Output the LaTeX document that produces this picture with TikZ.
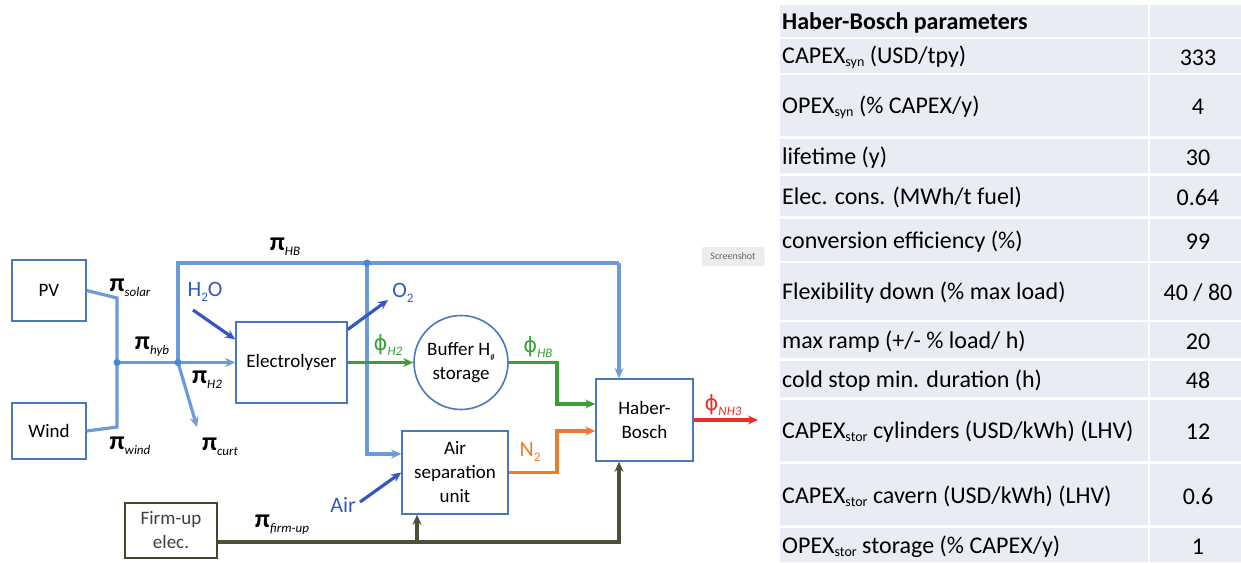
\documentclass[tikz,border=0pt]{standalone}
\usepackage{fontspec}
\setmainfont{Carlito}
\newfontfamily\symfam{DejaVu Sans}
\usepackage{xcolor}
\usetikzlibrary{arrows.meta,positioning,calc}
\definecolor{mycbus}{HTML}{6B9BD8}
\definecolor{mycbox}{HTML}{4A78B8}
\definecolor{mycdot}{HTML}{4A86D8}
\definecolor{mycin}{HTML}{3558C0}
\definecolor{mycgreen}{HTML}{3A9E3A}
\definecolor{mycorange}{HTML}{EC7A2C}
\definecolor{mycred}{HTML}{E8302A}
\definecolor{mycolive}{HTML}{4B5036}
\definecolor{mycfirm}{HTML}{4A4530}
\definecolor{myctxt}{HTML}{3F3F3F}
\definecolor{myctab}{HTML}{E9EBF5}
\newcommand{\pil}[1]{{\fontsize{26}{26}\selectfont\bfseries π}\raisebox{-5pt}{\fontsize{13}{13}\selectfont\itshape #1}}
\newcommand{\phil}[1]{{\symfam\fontsize{21}{21}\selectfont ϕ}\raisebox{-5pt}{\fontsize{13}{13}\selectfont\itshape #1}}
\newcommand{\lowsub}[1]{\raisebox{-5pt}{\fontsize{13}{13}\selectfont #1}}
\newcommand{\tsub}[1]{\raisebox{-3pt}{\fontsize{14}{14}\selectfont #1}}
\begin{document}
\begin{tikzpicture}[x=1pt,y=-1pt,
 >={Stealth[length=10pt,width=9pt]},
 b/.style={draw=mycbox,line width=1.6pt,inner sep=0pt,align=center,font=\fontsize{19}{24}\selectfont},
 bus/.style={draw=mycbus,line width=3.2pt},
 inp/.style={draw=mycin,line width=3.2pt,->},
 h2f/.style={draw=mycgreen,line width=3.2pt,->},
 n2f/.style={draw=mycorange,line width=3.2pt,->},
 nh3f/.style={draw=mycred,line width=3.2pt,->},
 fe/.style={draw=mycolive,line width=3.2pt,->},
 lab/.style={inner sep=0pt,font=\fontsize{22}{22}\selectfont},
 tt/.style={inner sep=0pt,yshift=-1.5pt,font=\fontsize{24}{24}\selectfont},
 shot/.style={fill=black!7,rounded corners=2pt,text=black!60,font=\fontsize{10}{10}\selectfont,minimum width=63pt,minimum height=19pt,inner sep=0pt}
]
\useasboundingbox (0,0) rectangle (1241,562);
% units
\node[b,minimum width=74pt,minimum height=61pt] (pv) at (49,290.5) {PV};
\node[b,minimum width=74pt,minimum height=56pt] (wind) at (49,431) {Wind};
\node[b,minimum width=111pt,minimum height=81pt] (ely) at (291.5,362.5) {Electrolyser};
\node[b,circle,minimum size=94pt] (buf) at (461,362.5) {Buffer H\lowsub{\fontsize{9}{9}\selectfont\#}\\storage};
\node[b,minimum width=97pt,minimum height=82pt] (hb) at (644.5,420) {Haber-\\Bosch};
\node[b,minimum width=106pt,minimum height=83pt] (asu) at (455,472.5) {Air\\separation\\unit};
\node[b,draw=mycfirm,text=myctxt,minimum width=92pt,minimum height=55pt] (firm) at (171,530.5) {Firm-up\\elec.};
% bends and free ends
\coordinate (jb) at (117,362.5);
\coordinate (bt) at (117,298);
\coordinate (bb) at (117,427);
\coordinate (j2) at (178,362.5);
\coordinate (jt) at (367,263);
\coordinate (hk) at (619,263);
\coordinate (ak) at (367,454);
\coordinate (cu) at (197,427);
\coordinate (gk) at (557,404);
\coordinate (ok) at (557,431);
\coordinate (nh) at (758,420);
\coordinate (wa) at (193,310);
\coordinate (oa) at (388,300);
\coordinate (aa) at (360,502);
\coordinate (fk) at (619,542);
\coordinate (fa) at (417,542);
% electricity
\draw[bus] (pv.east) -- (bt) -- (bb) -- (wind.east);
\draw[bus,->] (jb) -- (ely.west);
\draw[bus] (j2) -- (j2 |- jt) -- (hk);
\draw[bus,->] (hk) -- (hk |- hb.north);
\draw[bus,->] (jt) -- (ak) -- (ak -| asu.west);
\draw[bus,->] (j2) -- (cu);
\fill[mycdot] (jb) circle (3.5pt) (j2) circle (3.5pt) (jt) circle (3.5pt);
% material flows
\draw[inp] (wa) -- ($(ely.north west)!0.22!(ely.south west)$);
\draw[inp] ($(ely.north east)!0.1!(ely.south east)$) -- (oa);
\draw[inp] (aa) -- (asu.west);
\draw[h2f] (ely.east) -- (buf.west);
\draw[h2f] (buf.east) -| (gk) -- (gk -| hb.west);
\draw[n2f] (asu.east) -| (ok) -- (ok -| hb.west);
\draw[nh3f] (hb.east) -- (nh);
\draw[fe] (firm.east |- fk) -- (fk) -- (fk |- hb.south);
\draw[fe] (fa) -- (fa |- asu.south);
% labels
\node[lab] (lsol) at (130,288) {\pil{solar}};
\node[lab] (lwind) at (130,446) {\pil{wind}};
\node[lab] (lhyb) at (152,347) {\pil{hyb}};
\node[lab] (lh2) at (207,380) {\pil{H2}};
\node[lab] (lcurt) at (220,447) {\pil{curt}};
\node[lab] (lhb) at (285,247) {\pil{HB}};
\node[lab] (lfirm) at (282,525) {\pil{firm-up}};
\node[lab,text=mycgreen] (lph2) at (388,345) {\phil{H2}};
\node[lab,text=mycgreen] (lphb) at (538,347) {\phil{HB}};
\node[lab,text=mycred] (lnh3) at (723,405) {\phil{NH3}};
\node[lab,text=mycorange] (ln2) at (530,452) {N\lowsub{2}};
\node[lab,text=mycin] (lo2) at (403,293) {O\lowsub{2}};
\node[lab,text=mycin] (lh2o) at (205,292) {H\lowsub{2}O};
\node[lab,text=mycin] (lair) at (343,505) {Air};
\node[shot] (shot) at (733,256.5) {Screenshot};
% parameter table
\foreach \ya/\yb/\txt/\val [count=\i] in {
 5/37/{\textbf{Haber-Bosch parameters}}/{},
 39/73/{CAPEX\tsub{syn} (USD/tpy)}/{333},
 75/136/{OPEX\tsub{syn} (\% CAPEX/y)}/{4},
 139/173/{lifetime (y)}/{30},
 176/216/{Elec. cons. (MWh/t fuel)}/{0.64},
 219/261/{conversion efficiency (\%)}/{99},
 263/320/{Flexibility down (\% max load)}/{40 / 80},
 322/358/{max ramp (+/- \% load/ h)}/{20},
 361/397/{cold stop min. duration (h)}/{48},
 400/461/{CAPEX\tsub{stor} cylinders (USD/kWh) (LHV)}/{12},
 464/525/{CAPEX\tsub{stor} cavern (USD/kWh) (LHV)}/{0.6},
 528/562/{OPEX\tsub{stor} storage (\% CAPEX/y)}/{1}}
{
 \fill[myctab] (780,\ya) rectangle (1148,\yb) (1150,\ya) rectangle (1241,\yb);
 \node[tt,anchor=west] (t\i) at (782,{(\ya+\yb)/2}) {\txt};
 \node[tt] (v\i) at (1198,{(\ya+\yb)/2}) {\val};
}
\end{tikzpicture}
\end{document}
